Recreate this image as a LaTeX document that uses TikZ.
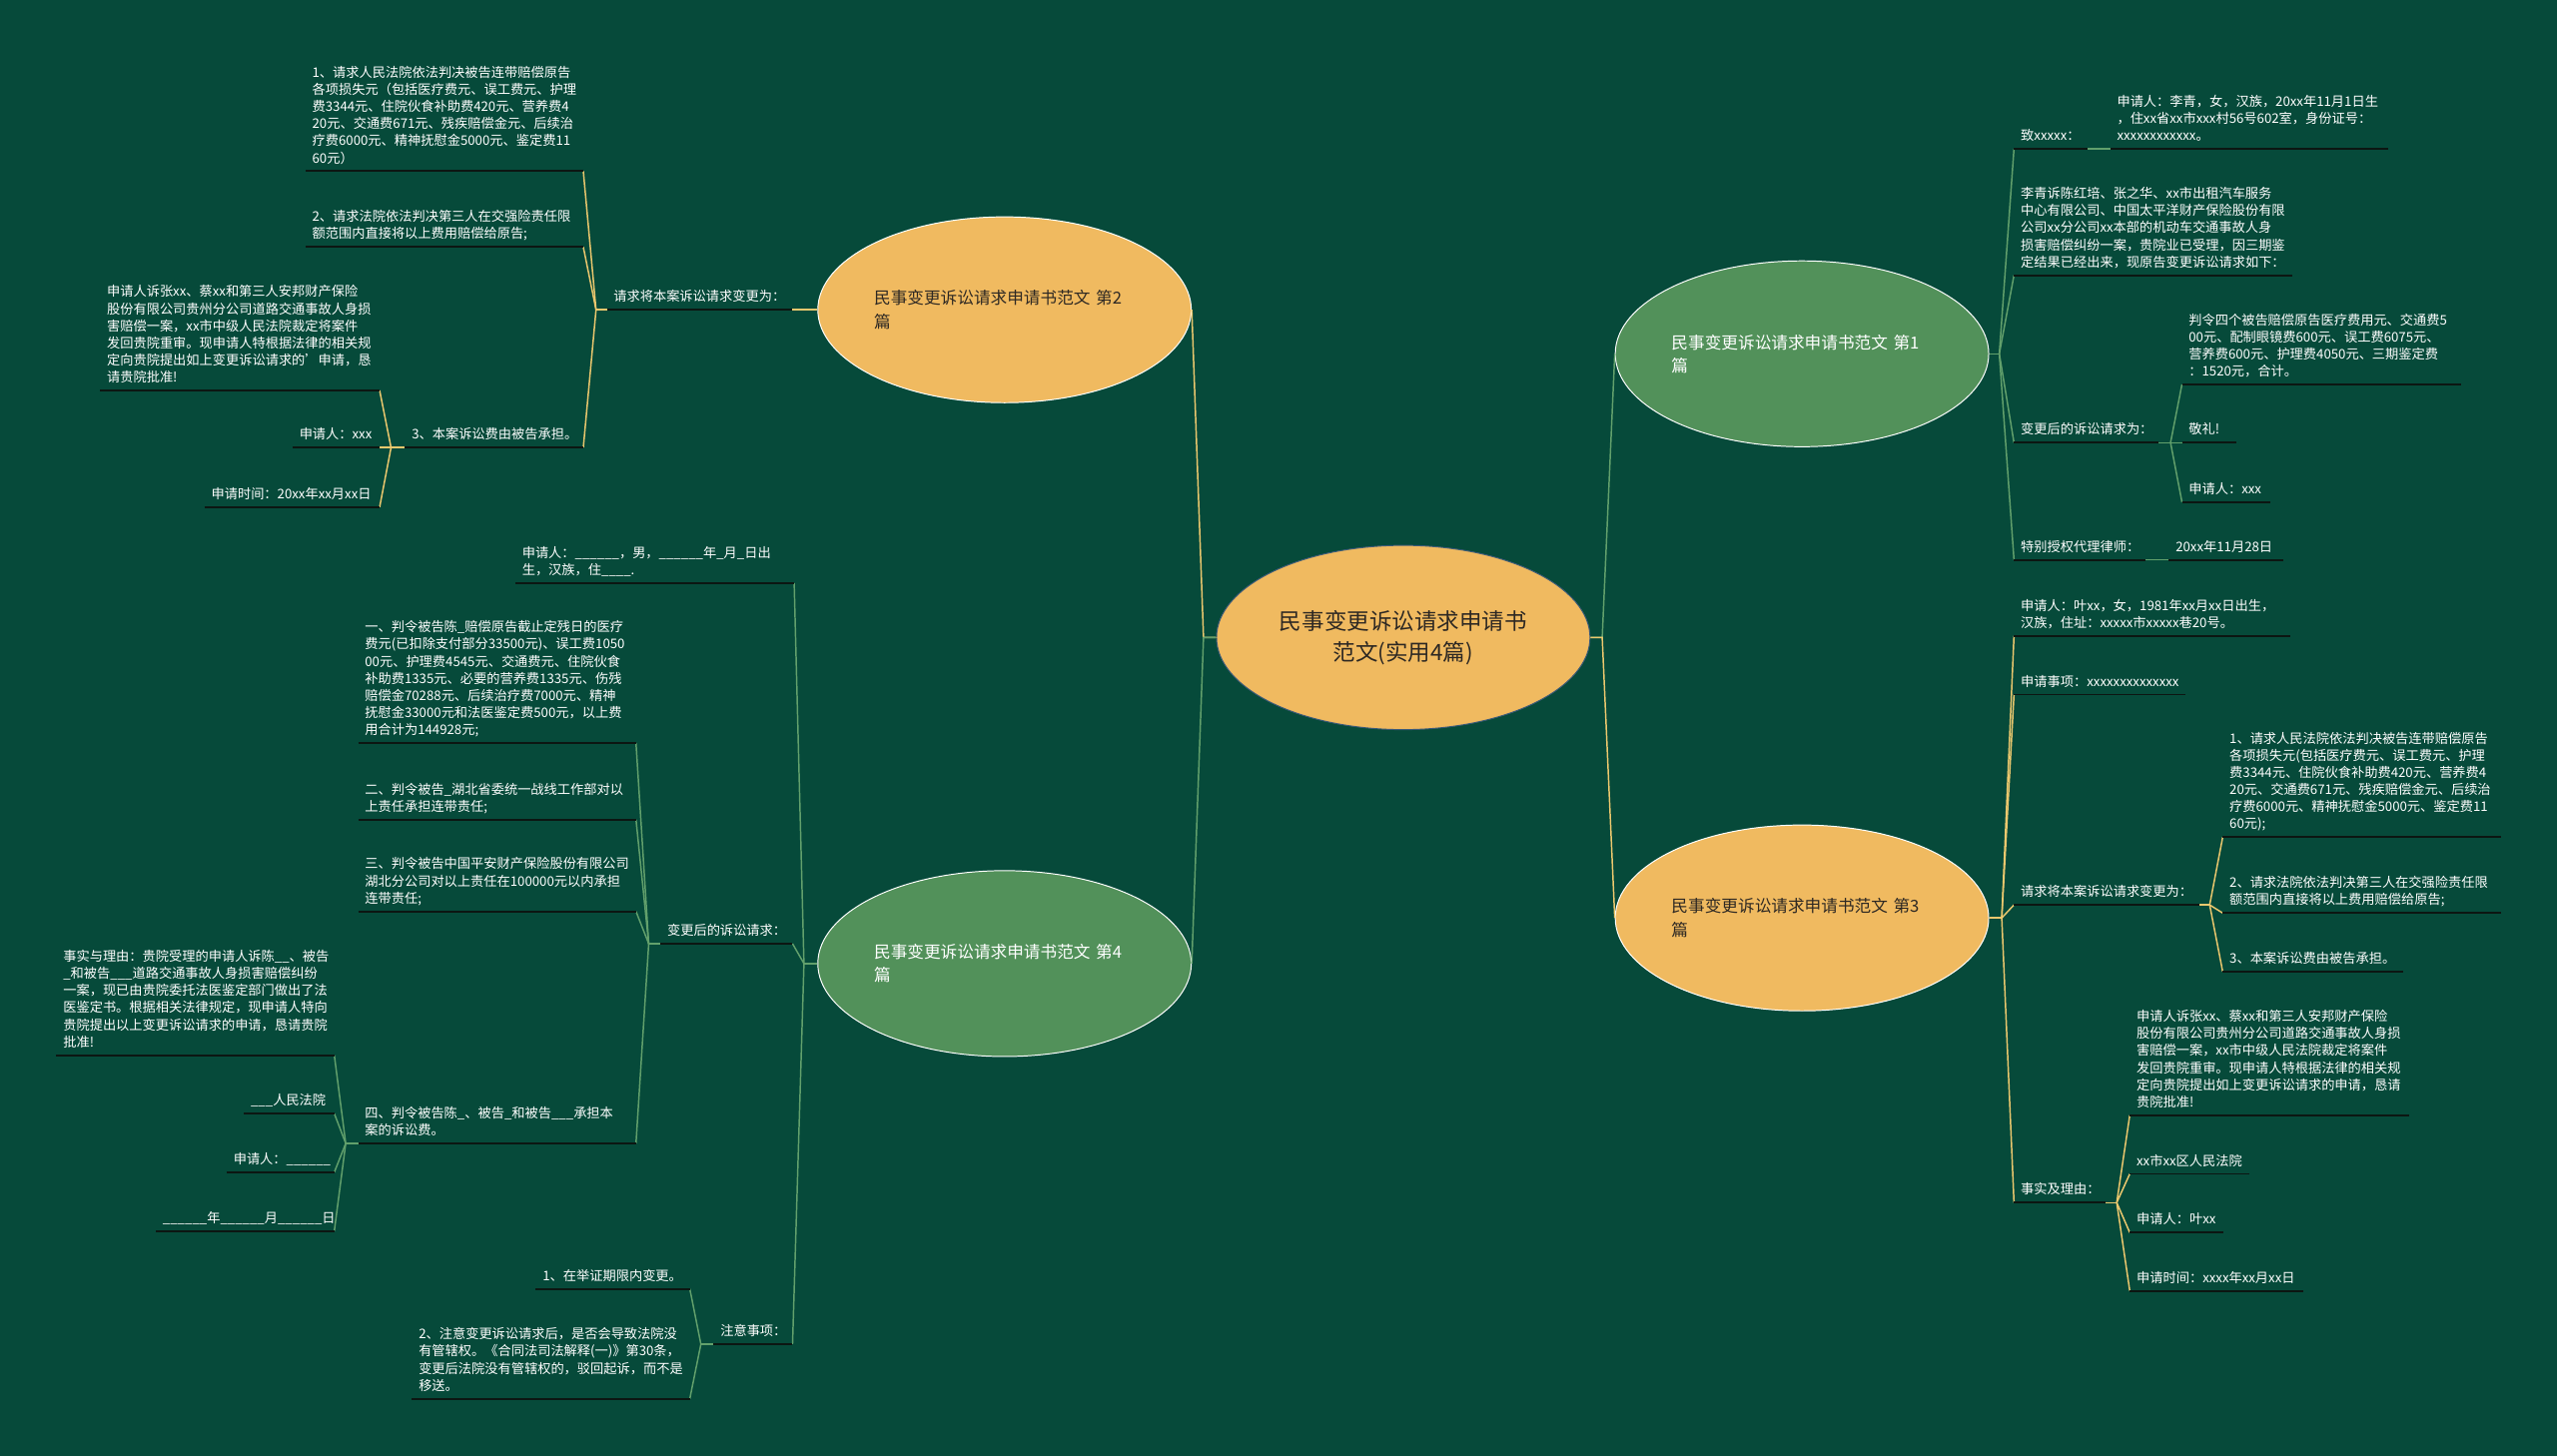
\documentclass[tikz,border=0pt]{standalone}
\usepackage{fontspec}
\setmainfont{Noto Sans CJK SC}
\usetikzlibrary{shapes.geometric}
\definecolor{bgcol}{RGB}{6,74,58}
\definecolor{orfill}{RGB}{240,186,96}
\definecolor{grfill}{RGB}{82,145,90}
\definecolor{ylcol}{RGB}{236,200,110}
\definecolor{glcol}{RGB}{98,160,108}
\definecolor{ulcol}{RGB}{12,22,18}
\definecolor{darktxt}{RGB}{45,40,35}
\newcommand{\leaffont}{\fontsize{8.1}{10.5}\selectfont}
\newcommand{\topicfont}{\fontsize{10.2}{14.3}\selectfont}
\newcommand{\rootfont}{\fontsize{13.8}{19}\selectfont}
\hyphenpenalty=10000
\exhyphenpenalty=10000
\begin{document}
\begin{tikzpicture}[x=1pt, y=-1pt,
  leaf/.style={text=white, font=\leaffont, align=left, inner xsep=4pt,
               inner ysep=1.8pt, execute at end node={\strut}},
  lt/.style={leaf, anchor=south east},
  rt/.style={leaf, anchor=south west},
  uline/.style={draw=ulcol, line width=1.2pt},
  yl/.style={draw=ylcol, line width=0.9pt},
  gl/.style={draw=glcol, line width=0.9pt},
  topic/.style={ellipse, draw=white, line width=0.6pt, minimum width=229pt,
                minimum height=114pt, inner sep=0pt, text width=160pt,
                align=left, font=\topicfont}]
\fill[bgcol] (0,0) rectangle (1568,893);
\useasboundingbox (0,0) rectangle (1568,893);

% root and topics
\node[ellipse, fill=orfill, draw={rgb,255:red,60;green,90;blue,120}, line width=0.6pt,
      minimum width=229pt, minimum height=113pt, inner sep=0pt, text width=158pt,
      align=center, font=\rootfont, text=darktxt] (root) at (860.5,391)
      {民事变更诉讼请求申请书\\范文(实用4篇)};
\node[topic, fill=orfill, text=darktxt] (t2) at (616,190) {民事变更诉讼请求申请书范文~第2\\篇};
\node[topic, fill=grfill, text=white] (t4) at (616,591) {民事变更诉讼请求申请书范文~第4\\篇};
\node[topic, fill=grfill, text=white] (t1) at (1105,217) {民事变更诉讼请求申请书范文~第1\\篇};
\node[topic, fill=orfill, text=darktxt] (t3) at (1105,563) {民事变更诉讼请求申请书范文~第3\\篇};

\coordinate (jl) at (738,391);
\coordinate (jr) at (982.5,391);
\draw[yl] (root.west) -- (jl) -- (t2.east);
\draw[gl] (root.west) -- (jl) -- (t4.east);
\draw[gl] (root.east) -- (jr) -- (t1.west);
\draw[yl] (root.east) -- (jr) -- (t3.west);

% topic 2
\node[lt, text width=105pt] (l2a) at (485.5,190) {请求将本案诉讼请求变更为：};
\node[lt, text width=162pt] (l2a1) at (357.7,105) {1、请求人民法院依法判决被告连带赔偿原告\\各项损失元（包括医疗费元、误工费元、护理\\费3344元、住院伙食补助费420元、营养费4\\20元、交通费671元、残疾赔偿金元、后续治\\疗费6000元、精神抚慰金5000元、鉴定费11\\60元）};
\node[lt, text width=162pt] (l2a2) at (357.7,151.5) {2、请求法院依法判决第三人在交强险责任限\\额范围内直接将以上费用赔偿给原告;};
\node[lt, text width=101pt] (l2a3) at (357.7,274.5) {3、本案诉讼费由被告承担。};
\node[lt, text width=163pt] (l2a3a) at (232.8,239.5) {申请人诉张xx、蔡xx和第三人安邦财产保险\\股份有限公司贵州分公司道路交通事故人身损\\害赔偿一案，xx市中级人民法院裁定将案件\\发回贵院重审。现申请人特根据法律的相关规\\定向贵院提出如上变更诉讼请求的'申请，恳\\请贵院批准!};
\node[lt, text width=45pt] (l2a3b) at (232.8,274.5) {申请人：xxx};
\node[lt, text width=99pt] (l2a3c) at (232.8,311) {申请时间：20xx年xx月xx日};

\coordinate (j2a) at (365.5,190);
\coordinate (j2a3) at (239.8,274.5);
\draw[yl] (t2.west) -- (l2a.south east);
\draw[yl] (l2a.south west) -- (j2a);
\foreach \c in {l2a1,l2a2,l2a3} \draw[yl] (j2a) -- (\c.south east);
\draw[yl] (l2a3.south west) -- (j2a3);
\foreach \c in {l2a3a,l2a3b,l2a3c} \draw[yl] (j2a3) -- (\c.south east);

% topic 4
\node[lt, text width=162.6pt] (l4a) at (487,357.7) {申请人：\_\_\_\_\_\_，男，\_\_\_\_\_\_年\_月\_日出\\生，汉族，住\_\_\_\_.};
\node[lt, text width=72.6pt] (l4b) at (486,578.8) {变更后的诉讼请求：};
\node[lt, text width=40pt] (l4c) at (486,824.4) {注意事项：};
\node[lt, text width=162pt] (l4b1) at (390,455.7) {一、判令被告陈\_赔偿原告截止定残日的医疗\\费元(已扣除支付部分33500元)、误工费1050\\00元、护理费4545元、交通费元、住院伙食\\补助费1335元、必要的营养费1335元、伤残\\赔偿金70288元、后续治疗费7000元、精神\\抚慰金33000元和法医鉴定费500元，以上费\\用合计为144928元;};
\node[lt, text width=162pt] (l4b2) at (390,502.6) {二、判令被告\_湖北省委统一战线工作部对以\\上责任承担连带责任;};
\node[lt, text width=162pt] (l4b3) at (390,559) {三、判令被告中国平安财产保险股份有限公司\\湖北分公司对以上责任在100000元以内承担\\连带责任;};
\node[lt, text width=162pt] (l4b4) at (390,701.3) {四、判令被告陈\_、被告\_和被告\_\_\_承担本\\案的诉讼费。};
\node[lt, text width=162pt] (l4b4a) at (205,647.2) {事实与理由：贵院受理的申请人诉陈\_\_、被告\\\_和被告\_\_\_道路交通事故人身损害赔偿纠纷\\一案，现已由贵院委托法医鉴定部门做出了法\\医鉴定书。根据相关法律规定，现申请人特向\\贵院提出以上变更诉讼请求的申请，恳请贵院\\批准!};
\node[lt, text width=47pt] (l4b4b) at (205,683) {\_\_\_人民法院};
\node[lt, text width=57.6pt] (l4b4c) at (205,719) {申请人：\_\_\_\_\_\_};
\node[lt, text width=101pt] (l4b4d) at (205,755) {\_\_\_\_\_\_年\_\_\_\_\_\_月\_\_\_\_\_\_日};
\node[lt, text width=86pt] (l4c1) at (423,790.5) {1、在举证期限内变更。};
\node[lt, text width=162pt] (l4c2) at (423,857.9) {2、注意变更诉讼请求后，是否会导致法院没\\有管辖权。《合同法司法解释(一)》第30条，\\变更后法院没有管辖权的，驳回起诉，而不是\\移送。};

\coordinate (j4) at (493,591);
\coordinate (j4b) at (397.8,578.8);
\coordinate (j4b4) at (212,701.3);
\coordinate (j4c) at (429.8,824.4);
\draw[gl] (t4.west) -- (j4);
\foreach \c in {l4a,l4b,l4c} \draw[gl] (j4) -- (\c.south east);
\draw[gl] (l4b.south west) -- (j4b);
\foreach \c in {l4b1,l4b2,l4b3,l4b4} \draw[gl] (j4b) -- (\c.south east);
\draw[gl] (l4b4.south west) -- (j4b4);
\foreach \c in {l4b4a,l4b4b,l4b4c,l4b4d} \draw[gl] (j4b4) -- (\c.south east);
\draw[gl] (l4c.south west) -- (j4c);
\foreach \c in {l4c1,l4c2} \draw[gl] (j4c) -- (\c.south east);

% topic 1
\node[rt, text width=37pt] (r1a) at (1235,91.2) {致xxxxx：};
\node[rt, text width=162pt] (r1a1) at (1294,91.2) {申请人：李青，女，汉族，20xx年11月1日生\\，住xx省xx市xxx村56号602室，身份证号：\\xxxxxxxxxxxx。};
\node[rt, text width=162pt] (r1b) at (1235,168.8) {李青诉陈红培、张之华、xx市出租汽车服务\\中心有限公司、中国太平洋财产保险股份有限\\公司xx分公司xx本部的机动车交通事故人身\\损害赔偿纠纷一案，贵院业已受理，因三期鉴\\定结果已经出来，现原告变更诉讼请求如下：};
\node[rt, text width=80pt] (r1c) at (1235,271.5) {变更后的诉讼请求为：};
\node[rt, text width=163pt] (r1c1) at (1338,235.8) {判令四个被告赔偿原告医疗费用元、交通费5\\00元、配制眼镜费600元、误工费6075元、\\营养费600元、护理费4050元、三期鉴定费\\：1520元，合计。};
\node[rt, text width=25pt] (r1c2) at (1338,271.5) {敬礼!};
\node[rt, text width=46pt] (r1c3) at (1338,307.9) {申请人：xxx};
\node[rt, text width=72pt] (r1d) at (1235,343.4) {特别授权代理律师：};
\node[rt, text width=62pt] (r1d1) at (1330,343.4) {20xx年11月28日};

\coordinate (j1) at (1226,217);
\coordinate (j1c) at (1331,271.5);
\draw[gl] (t1.east) -- (j1);
\foreach \c in {r1a,r1b,r1c,r1d} \draw[gl] (j1) -- (\c.south west);
\draw[gl] (r1a.south east) -- (r1a1.south west);
\draw[gl] (r1c.south east) -- (j1c);
\foreach \c in {r1c1,r1c2,r1c3} \draw[gl] (j1c) -- (\c.south west);
\draw[gl] (r1d.south east) -- (r1d1.south west);

% topic 3
\node[rt, text width=161pt] (r3a) at (1235,390) {申请人：叶xx，女，1981年xx月xx日出生，\\汉族，住址：xxxxx市xxxxx巷20号。};
\node[rt, text width=97pt] (r3b) at (1235,426) {申请事项：xxxxxxxxxxxxxx};
\node[rt, text width=105pt] (r3c) at (1235,555) {请求将本案诉讼请求变更为：};
\node[rt, text width=48pt] (r3d) at (1235,737.6) {事实及理由：};
\node[rt, text width=162pt] (r3c1) at (1363,513.4) {1、请求人民法院依法判决被告连带赔偿原告\\各项损失元(包括医疗费元、误工费元、护理\\费3344元、住院伙食补助费420元、营养费4\\20元、交通费671元、残疾赔偿金元、后续治\\疗费6000元、精神抚慰金5000元、鉴定费11\\60元);};
\node[rt, text width=162pt] (r3c2) at (1363,560) {2、请求法院依法判决第三人在交强险责任限\\额范围内直接将以上费用赔偿给原告;};
\node[rt, text width=102pt] (r3c3) at (1363,596) {3、本案诉讼费由被告承担。};
\node[rt, text width=163pt] (r3d1) at (1306,684) {申请人诉张xx、蔡xx和第三人安邦财产保险\\股份有限公司贵州分公司道路交通事故人身损\\害赔偿一案，xx市中级人民法院裁定将案件\\发回贵院重审。现申请人特根据法律的相关规\\定向贵院提出如上变更诉讼请求的申请，恳请\\贵院批准!};
\node[rt, text width=65pt] (r3d2) at (1306,720) {xx市xx区人民法院};
\node[rt, text width=49pt] (r3d3) at (1306,756) {申请人：叶xx};
\node[rt, text width=98pt] (r3d4) at (1306,791.7) {申请时间：xxxx年xx月xx日};

\coordinate (j3) at (1227.5,563);
\coordinate (j3c) at (1355,555);
\coordinate (j3d) at (1298,737.6);
\draw[yl] (t3.east) -- (j3);
\foreach \c in {r3a,r3b,r3c,r3d} \draw[yl] (j3) -- (\c.south west);
\draw[yl] (r3c.south east) -- (j3c);
\foreach \c in {r3c1,r3c2,r3c3} \draw[yl] (j3c) -- (\c.south west);
\draw[yl] (r3d.south east) -- (j3d);
\foreach \c in {r3d1,r3d2,r3d3,r3d4} \draw[yl] (j3d) -- (\c.south west);

% underlines
\foreach \n in {l2a,l2a1,l2a2,l2a3,l2a3a,l2a3b,l2a3c,
                l4a,l4b,l4c,l4b1,l4b2,l4b3,l4b4,l4b4a,l4b4b,l4b4c,l4b4d,l4c1,l4c2,
                r1a,r1a1,r1b,r1c,r1c1,r1c2,r1c3,r1d,r1d1,
                r3a,r3b,r3c,r3d,r3c1,r3c2,r3c3,r3d1,r3d2,r3d3,r3d4}
  \draw[uline] (\n.south west) -- (\n.south east);
\end{tikzpicture}
\end{document}
